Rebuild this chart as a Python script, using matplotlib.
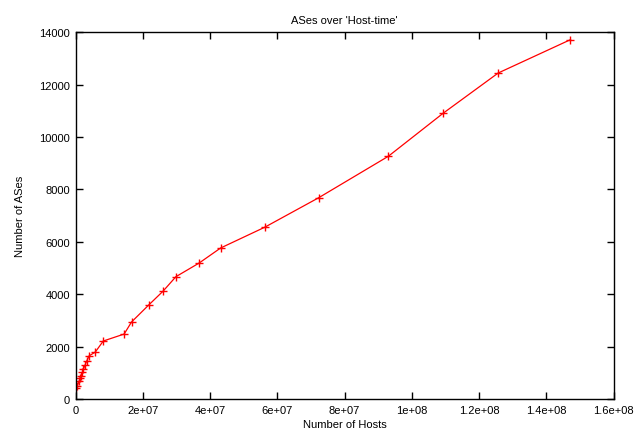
import matplotlib
matplotlib.use("Agg")
import matplotlib.pyplot as plt

# number of hosts vs number of autonomous systems
hosts = [0.1e6, 0.5e6, 1.0e6, 1.3e6, 1.6e6, 2.0e6, 2.3e6, 2.8e6, 3.3e6, 4.0e6,
         5.8e6, 8.2e6, 1.44e7, 1.66e7, 2.18e7, 2.60e7, 2.98e7, 3.67e7, 4.31e7,
         5.62e7, 7.23e7, 9.30e7, 1.093e8, 1.257e8, 1.472e8]
ases = [410, 510, 680, 790, 890, 1020, 1145, 1300, 1460, 1650,
        1790, 2215, 2480, 2940, 3600, 4120, 4670, 5190, 5765,
        6556, 7686, 9267, 10909, 12447, 13720]

x_ticks = [0, 2e7, 4e7, 6e7, 8e7, 1e8, 1.2e8, 1.4e8, 1.6e8]
x_labels = ["0", "2e+07", "4e+07", "6e+07", "8e+07", "1e+08", "1.2e+08", "1.4e+08", "1.6e+08"]
y_ticks = [0, 2000, 4000, 6000, 8000, 10000, 12000, 14000]

plt.rcParams['font.family'] = ['Liberation Sans', 'DejaVu Sans']

fig = plt.figure(figsize=(6.38, 4.39), dpi=100)
ax = fig.add_axes([0.1187, 0.0888, 0.8429, 0.8353])

ax.plot(hosts, ases, color="#ff0000", linewidth=0.9, marker="+",
        markersize=6, markeredgewidth=1.0)

ax.set_xlim(0, 1.6e8)
ax.set_ylim(0, 14000)
ax.set_xticks(x_ticks)
ax.set_xticklabels(x_labels)
ax.set_yticks(y_ticks)
ax.tick_params(direction="in", length=5, width=1, top=True, right=True,
               labelsize=8, pad=4)
for s in ax.spines.values():
    s.set_linewidth(1.0)

ax.set_title("ASes over 'Host-time'", fontsize=8, pad=7)
ax.set_xlabel("Number of Hosts", fontsize=8, labelpad=3)
ax.set_ylabel("Number of ASes", fontsize=8, labelpad=10)

fig.savefig("out.png", dpi=100)
